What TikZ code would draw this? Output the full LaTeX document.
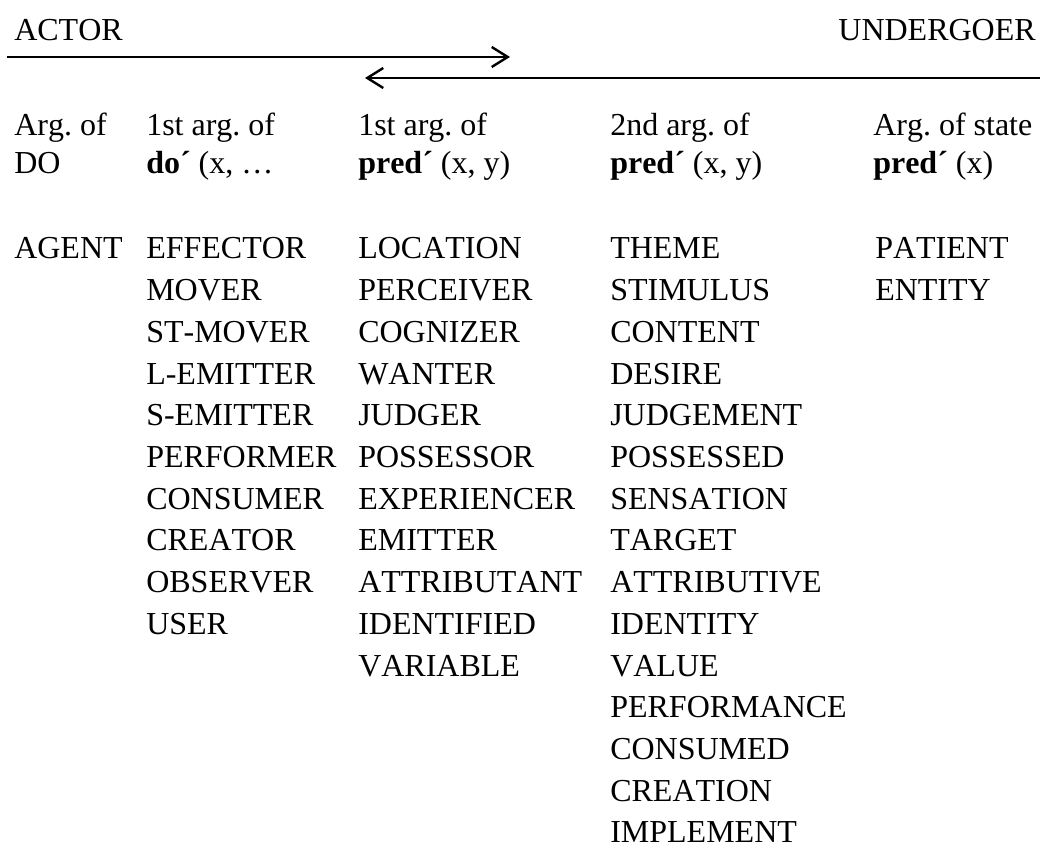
\documentclass[tikz,border=0pt]{standalone}
\usepackage{fontspec}
\setmainfont[Kerning=Off]{Liberation Serif}
\usetikzlibrary{arrows.meta}
\frenchspacing
\begin{document}
\begin{tikzpicture}[x=0.75pt,y=-0.75pt,
  txt/.style={anchor=base west,inner sep=0pt,font=\fontsize{24}{30}\selectfont},
  scale arrow/.style={line width=1.8pt,-{Straight Barb[length=12pt,width=15pt,line width=1.8pt]}}]
\useasboundingbox (0,0) rectangle (1040,852);
% top labels
\node[txt] (actor) at (14,41) {ACTOR};
\node[txt,anchor=base east] (undergoer) at (1036,41) {UNDERGOER};
% arrows
\coordinate (a1s) at (7,57);
\coordinate (a1e) at (510,57);
\coordinate (a2s) at (1040,78);
\coordinate (a2e) at (365,78);
\draw[scale arrow] (a1s) -- (a1e);
\draw[scale arrow] (a2s) -- (a2e);
% headers
\node[txt] (h1a) at (14,136) {Arg. of};
\node[txt] (h1b) at (14,174) {DO};
\node[txt] (h2a) at (146,136) {1st arg. of};
\node[txt] (h2b) at (146,174) {\textbf{do´}~(x, …};
\node[txt] (h3a) at (358,136) {1st arg. of};
\node[txt] (h3b) at (358,174) {\textbf{pred´}~(x, y)};
\node[txt] (h4a) at (610,136) {2nd arg. of};
\node[txt] (h4b) at (610,174) {\textbf{pred´}~(x, y)};
\node[txt] (h5a) at (873,136) {Arg. of state};
\node[txt] (h5b) at (873,174) {\textbf{pred´}~(x)};
% columns
\node[txt] (c1-0) at (14,259) {AGENT};
\foreach \w [count=\i from 0] in {EFFECTOR,MOVER,ST-MOVER,L-EMITTER,S-EMITTER,PERFORMER,CONSUMER,CREATOR,OBSERVER,USER}
  \node[txt] (c2-\i) at (146,{259+41.7*\i}) {\w};
\foreach \w [count=\i from 0] in {LOCATION,PERCEIVER,COGNIZER,WANTER,JUDGER,POSSESSOR,EXPERIENCER,EMITTER,ATTRIBUTANT,IDENTIFIED,VARIABLE}
  \node[txt] (c3-\i) at (358,{259+41.7*\i}) {\w};
\foreach \w [count=\i from 0] in {THEME,STIMULUS,CONTENT,DESIRE,JUDGEMENT,POSSESSED,SENSATION,TARGET,ATTRIBUTIVE,IDENTITY,VALUE,PERFORMANCE,CONSUMED,CREATION,IMPLEMENT}
  \node[txt] (c4-\i) at (610,{259+41.7*\i}) {\w};
\foreach \w [count=\i from 0] in {PATIENT,ENTITY}
  \node[txt] (c5-\i) at (875,{259+41.7*\i}) {\w};
\end{tikzpicture}
\end{document}
